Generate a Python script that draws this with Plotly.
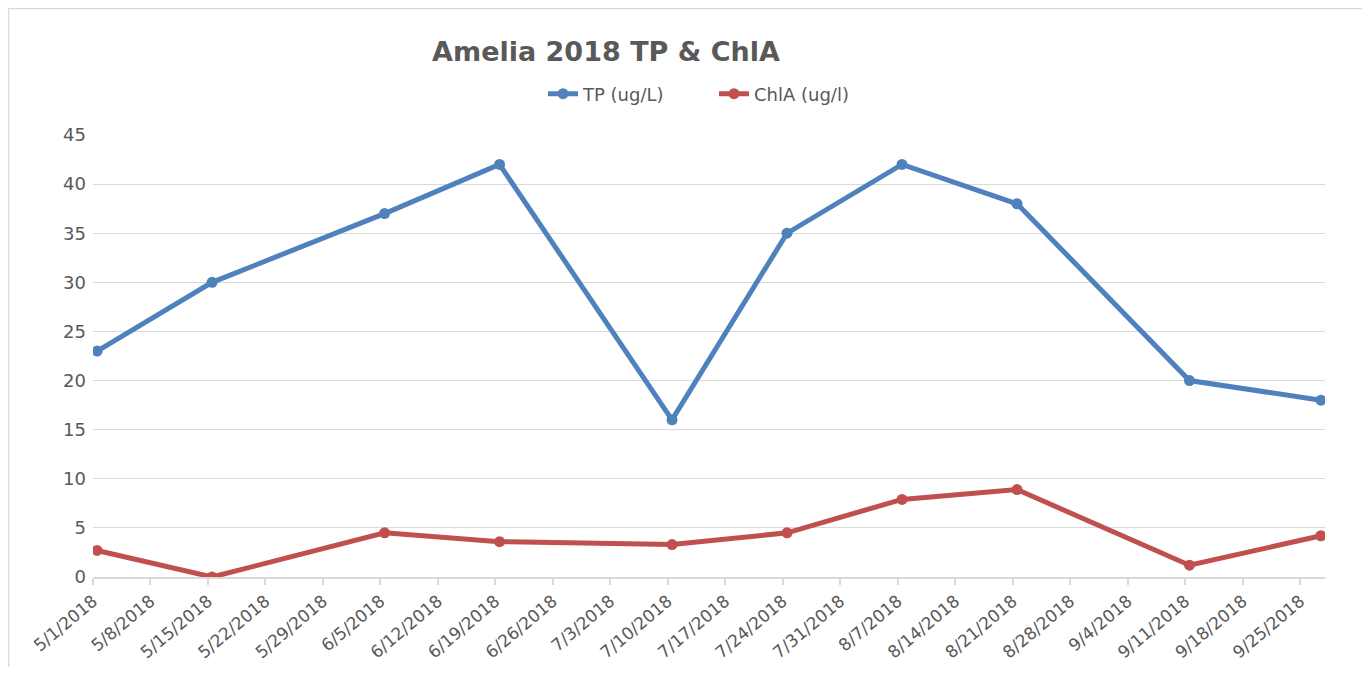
import plotly.graph_objects as go
import pandas as pd

# ---- data ----
sample_dates = ["2018-05-01", "2018-05-15", "2018-06-05", "2018-06-19", "2018-07-10",
                "2018-07-24", "2018-08-07", "2018-08-21", "2018-09-11", "2018-09-27"]
tp_values = [23, 30, 37, 42, 16, 35, 42, 38, 20, 18]
chla_values = [2.7, 0.0, 4.5, 3.6, 3.3, 4.5, 7.9, 8.9, 1.2, 4.2]

tick_dates = ["2018-05-01", "2018-05-08", "2018-05-15", "2018-05-22", "2018-05-29",
              "2018-06-05", "2018-06-12", "2018-06-19", "2018-06-26", "2018-07-03",
              "2018-07-10", "2018-07-17", "2018-07-24", "2018-07-31", "2018-08-07",
              "2018-08-14", "2018-08-21", "2018-08-28", "2018-09-04", "2018-09-11",
              "2018-09-18", "2018-09-25"]
tick_labels = ["5/1/2018", "5/8/2018", "5/15/2018", "5/22/2018", "5/29/2018",
               "6/5/2018", "6/12/2018", "6/19/2018", "6/26/2018", "7/3/2018",
               "7/10/2018", "7/17/2018", "7/24/2018", "7/31/2018", "8/7/2018",
               "8/14/2018", "8/21/2018", "8/28/2018", "9/4/2018", "9/11/2018",
               "9/18/2018", "9/25/2018"]

# points sit in the middle of their day (Excel date axis, between tick marks)
x_pts = pd.to_datetime(sample_dates) + pd.Timedelta(hours=12)

FONT = "DejaVu Sans"
GREY = "#595959"
LIGHT = "#d9d9d9"

fig = go.Figure()
fig.add_trace(go.Scatter(
    x=x_pts, y=tp_values, name="TP (ug/L)", mode="lines+markers",
    line=dict(color="#4F81BD", width=5),
    marker=dict(color="#4F81BD", size=11),
))
fig.add_trace(go.Scatter(
    x=x_pts, y=chla_values, name="ChlA (ug/l)", mode="lines+markers",
    line=dict(color="#C0504D", width=5),
    marker=dict(color="#C0504D", size=11),
))

# page has an 8px body margin; figure coordinates below are page coords minus 8
OFF = 8
W, H = 1362, 659
L, R, T, B = 85, 45, 127, 90
pw, ph = W - L - R, H - T - B

def px_x(x):
    return (x - OFF - L) / pw

def px_y(y):
    return (H - B - (y - OFF)) / ph

def cont_x(x):
    return (x - OFF) / W

def cont_y(y):
    return 1 - (y - OFF) / H

fig.update_layout(
    width=W, height=H,
    margin=dict(l=L, r=R, t=T, b=B, autoexpand=False),
    paper_bgcolor="white", plot_bgcolor="white",
    font=dict(family=FONT, color=GREY, size=16),
    title=dict(text="<b>Amelia 2018 TP &amp; ChlA</b>", xref="container", x=cont_x(606),
               xanchor="center", yref="container", y=cont_y(52), yanchor="middle",
               font=dict(family=FONT, size=27, color=GREY)),
    legend=dict(orientation="h", x=px_x(543), xanchor="left", y=px_y(94), yanchor="middle",
                font=dict(family=FONT, size=18, color=GREY), bgcolor="rgba(0,0,0,0)",
                entrywidth=126, entrywidthmode="pixels"),
    showlegend=True,
    shapes=[dict(type="rect", xref="paper", yref="paper",
                 x0=px_x(OFF + 0.5), x1=px_x(1367), y0=px_y(700), y1=px_y(OFF + 0.5),
                 line=dict(color=LIGHT, width=1.5), fillcolor="rgba(0,0,0,0)", layer="below")],
)
fig.update_xaxes(
    type="date", range=["2018-05-01", "2018-09-28"], automargin=False,
    tickmode="array", tickvals=tick_dates, ticktext=tick_labels, tickangle=-40,
    ticks="outside", ticklen=6, tickcolor=LIGHT, tickwidth=1.5,
    showline=True, linecolor=LIGHT, linewidth=1.5, showgrid=False, zeroline=False,
    tickfont=dict(family=FONT, size=17, color=GREY),
)
fig.update_yaxes(
    range=[0, 45], dtick=5, tick0=0, showgrid=True, gridcolor=LIGHT, gridwidth=1,
    zeroline=False, showline=False, ticks="", ticklabelstandoff=6, automargin=False,
    tickfont=dict(family=FONT, size=18, color=GREY),
)

fig.write_html("out.html")
